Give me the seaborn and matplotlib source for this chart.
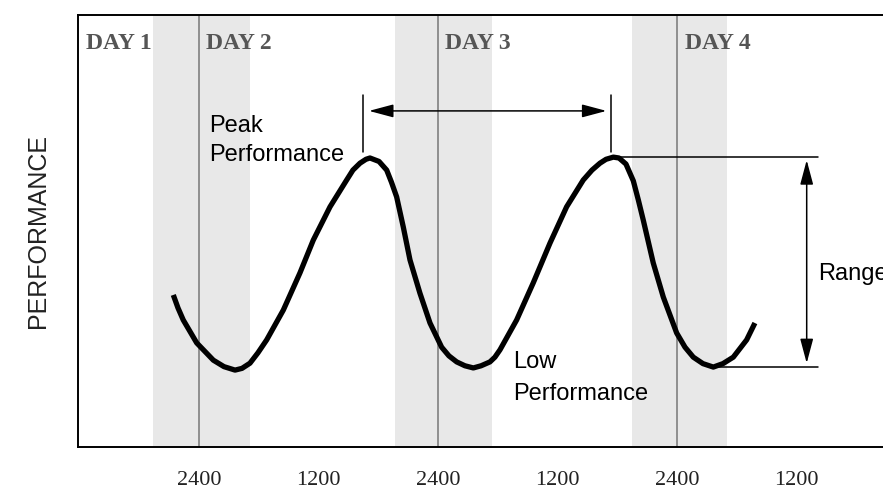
import matplotlib
matplotlib.use("Agg")
import matplotlib.pyplot as plt
import pandas as pd
import seaborn as sns

# hours after the first midnight, performance on a 0-10 scale
hours = [-2.58, -2.11, -1.58, -0.23, 1.44, 2.51, 3.62, 4.32, 5.12, 5.92,
         6.80, 8.47, 10.14, 11.48, 13.16, 14.83, 15.46, 16.17, 16.77, 17.17,
         18.08, 18.85, 19.33, 19.85, 20.52, 21.19, 22.19, 23.20, 24.37, 25.10,
         25.88, 26.71, 27.55, 28.33, 29.22, 29.72, 30.23, 31.90, 33.57, 35.25,
         36.92, 38.59, 39.47, 40.27, 40.88, 41.61, 42.18, 42.88, 43.62, 44.12,
         44.62, 45.62, 46.63, 47.97, 48.81, 49.64, 50.61, 51.65, 52.62, 53.66,
         55.00, 55.83]
performance = [3.52, 3.22, 2.94, 2.41, 2.01, 1.86, 1.78, 1.82, 1.94, 2.18,
               2.48, 3.17, 4.03, 4.79, 5.56, 6.18, 6.41, 6.57, 6.66, 6.69,
               6.61, 6.41, 6.13, 5.79, 5.09, 4.33, 3.56, 2.87, 2.31, 2.11,
               1.97, 1.88, 1.83, 1.88, 1.97, 2.08, 2.25, 2.94, 3.80, 4.72,
               5.56, 6.18, 6.41, 6.57, 6.66, 6.71, 6.69, 6.55, 6.16, 5.72,
               5.25, 4.26, 3.47, 2.64, 2.31, 2.08, 1.93, 1.85, 1.93, 2.08,
               2.48, 2.87]

# night-time shading and midnights
night_start = [-4.6, 19.7, 43.5]
night_end = [5.1, 29.4, 53.0]
midnights = [0, 24, 48]

tick_hours = [0, 12, 24, 36, 48, 60]
tick_labels = ["2400", "1200", "2400", "1200", "2400", "1200"]

day_labels = ["DAY 1", "DAY 2", "DAY 3", "DAY 4"]
day_label_hours = [-11.35, 0.67, 24.7, 48.8]

peak_hours = [16.47, 41.37]
peak_level = 6.72
low_level = 1.86

df = pd.DataFrame({"hours": hours, "performance": performance})

sns.set_style("white")
plt.rcParams["font.family"] = ["Liberation Sans", "DejaVu Sans"]

fig = plt.figure(figsize=(8.83, 4.92), dpi=100)
ax = fig.add_axes([78 / 883, 45 / 492, (900 - 78) / 883, 432 / 492])

for s, e in zip(night_start, night_end):
    ax.axvspan(s, e, color="#e8e8e8", lw=0, zorder=0)
for m in midnights:
    ax.axvline(m, color="#777777", lw=1.1, zorder=1)

sns.lineplot(data=df, x="hours", y="performance", color="black", lw=3.8,
             ax=ax, zorder=3, solid_joinstyle="round", solid_capstyle="butt")

ax.set_xlim(-12.15, 70.4)
ax.set_ylim(0, 10)
ax.set_yticks([])
ax.set_xticks(tick_hours)
ax.set_xticklabels(tick_labels, family="Liberation Serif", fontsize=16, color="#222222")
ax.tick_params(axis="x", direction="out", length=8.6, width=1.1, color="#666666", pad=9)
ax.set_xlabel("")
ax.set_ylabel("PERFORMANCE", fontsize=18, color="#222222", labelpad=20)
for side in ["left", "top", "bottom"]:
    ax.spines[side].set_color("black")
    ax.spines[side].set_linewidth(1.4)
ax.spines["right"].set_visible(False)

for lbl, h in zip(day_labels, day_label_hours):
    ax.text(h, 9.21, lbl, family="Liberation Serif", fontweight="bold",
            fontsize=17, color="#555555", va="baseline", ha="left")

# peak-to-peak marker
for p in peak_hours:
    ax.plot([p, p], [6.83, 8.15], color="black", lw=1.1)
ax.annotate("", xy=(peak_hours[0] + 0.6, 7.78), xytext=(peak_hours[1] - 0.45, 7.78),
            arrowprops=dict(arrowstyle="<|-|>,head_length=0.75,head_width=0.2",
                            mutation_scale=20, color="black", lw=1.1,
                            shrinkA=0, shrinkB=0))

# range marker
ax.plot([42.3, 62.16], [peak_level, peak_level], color="black", lw=1.1)
ax.plot([51.6, 62.16], [low_level, low_level], color="black", lw=1.1)
ax.annotate("", xy=(61.03, peak_level - 0.08), xytext=(61.03, low_level + 0.08),
            arrowprops=dict(arrowstyle="<|-|>,head_length=0.75,head_width=0.2",
                            mutation_scale=20, color="black", lw=1.1,
                            shrinkA=0, shrinkB=0))

txt = dict(fontsize=17, color="black", va="baseline", ha="left")
ax.text(1.0, 7.29, "Peak", **txt)
ax.text(1.0, 6.62, "Performance", **txt)
ax.text(31.56, 1.82, "Low", **txt)
ax.text(31.56, 1.09, "Performance", **txt)
ax.text(62.13, 3.87, "Range", **txt)

fig.savefig("out.png", dpi=100)
